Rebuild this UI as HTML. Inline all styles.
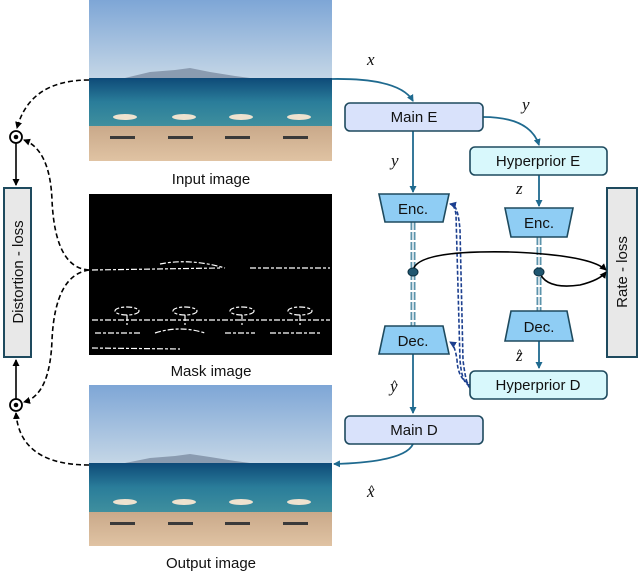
<!DOCTYPE html>
<html><head><meta charset="utf-8"><style>
html,body{margin:0;padding:0;background:#fff;}
svg{display:block;font-family:"Liberation Sans",sans-serif;}
.m{font-family:"Liberation Serif",serif;font-style:italic;font-size:17px;fill:#111;}
</style></head><body>
<svg width="640" height="573" viewBox="0 0 640 573" xmlns="http://www.w3.org/2000/svg">
<defs>
<marker id="ab" markerWidth="8" markerHeight="8" refX="6" refY="4" orient="auto" markerUnits="userSpaceOnUse"><path d="M0,0.5 L7,4 L0,7.5z" fill="#1f6a8f"/></marker>
<marker id="ak" markerWidth="8" markerHeight="8" refX="6" refY="4" orient="auto" markerUnits="userSpaceOnUse"><path d="M0,0.5 L7,4 L0,7.5z" fill="#000"/></marker>
<marker id="an" markerWidth="8" markerHeight="8" refX="6" refY="4" orient="auto" markerUnits="userSpaceOnUse"><path d="M0,0.5 L7,4 L0,7.5z" fill="#1c3f8f"/></marker>
<linearGradient id="sky" x1="0" y1="0" x2="0" y2="1"><stop offset="0" stop-color="#7ea6d6"/><stop offset="1" stop-color="#c4d6e6"/></linearGradient>
<linearGradient id="sea" x1="0" y1="0" x2="0" y2="1"><stop offset="0" stop-color="#0e4a78"/><stop offset="0.5" stop-color="#2a7d9a"/><stop offset="1" stop-color="#3f8f9e"/></linearGradient>
<linearGradient id="sand" x1="0" y1="0" x2="0" y2="1"><stop offset="0" stop-color="#c9a98a"/><stop offset="1" stop-color="#e0c3a3"/></linearGradient>
</defs>

<!-- Input image -->
<rect x="89" y="0" width="243" height="78" fill="url(#sky)"/>
<path d="M125,78 L150,72 L175,70 L190,68 L210,72 L235,76 L250,78Z" fill="#8a9bb0"/>
<rect x="89" y="78" width="243" height="48" fill="url(#sea)"/>
<rect x="89" y="126" width="243" height="35" fill="url(#sand)"/>
<g fill="#eee2cf"><ellipse cx="125" cy="117" rx="12" ry="3"/><ellipse cx="184" cy="117" rx="12" ry="3"/><ellipse cx="241" cy="117" rx="12" ry="3"/><ellipse cx="299" cy="117" rx="12" ry="3"/></g>
<g fill="#3a3a3a"><rect x="110" y="136" width="25" height="3"/><rect x="168" y="136" width="25" height="3"/><rect x="225" y="136" width="25" height="3"/><rect x="283" y="136" width="25" height="3"/></g>
<text x="211" y="184" font-size="15" text-anchor="middle" fill="#111">Input image</text>

<!-- Mask image -->
<rect x="89" y="194" width="243" height="161" fill="#000"/>
<g stroke="#fff" stroke-width="1.2" fill="none" stroke-dasharray="6 2 3 2">
<path d="M92,270 L220,268 M160,264 Q190,258 225,268 M250,268 L330,268"/>
<ellipse cx="127" cy="311" rx="12" ry="4"/><ellipse cx="185" cy="311" rx="12" ry="4"/><ellipse cx="242" cy="311" rx="12" ry="4"/><ellipse cx="300" cy="311" rx="12" ry="4"/>
<path d="M127,315 L127,325 M185,315 L185,325 M242,315 L242,325 M300,315 L300,325"/>
<path d="M92,320 L330,320 M95,333 L140,333 M155,333 Q180,325 205,333 M225,333 L255,333 M270,333 L320,333 M92,348 L180,349"/>
</g>
<text x="211" y="376" font-size="15" text-anchor="middle" fill="#111">Mask image</text>

<!-- Output image -->
<rect x="89" y="385" width="243" height="78" fill="url(#sky)"/>
<path d="M125,463 L150,458 L175,456 L190,454 L210,457 L235,461 L250,463Z" fill="#8a9bb0"/>
<rect x="89" y="463" width="243" height="49" fill="url(#sea)"/>
<rect x="89" y="512" width="243" height="34" fill="url(#sand)"/>
<g fill="#eee2cf"><ellipse cx="125" cy="502" rx="12" ry="3"/><ellipse cx="184" cy="502" rx="12" ry="3"/><ellipse cx="241" cy="502" rx="12" ry="3"/><ellipse cx="299" cy="502" rx="12" ry="3"/></g>
<g fill="#3a3a3a"><rect x="110" y="522" width="25" height="3"/><rect x="168" y="522" width="25" height="3"/><rect x="225" y="522" width="25" height="3"/><rect x="283" y="522" width="25" height="3"/></g>
<text x="211" y="568" font-size="15" text-anchor="middle" fill="#111">Output image</text>

<!-- Distortion loss -->
<rect x="4" y="188" width="27" height="169" fill="#e8e8e8" stroke="#1e4a5e" stroke-width="2"/>
<text transform="translate(23,272) rotate(-90)" font-size="15" text-anchor="middle" fill="#111">Distortion - loss</text>
<circle cx="16" cy="137" r="6" fill="#fff" stroke="#000" stroke-width="1.8"/><circle cx="16" cy="137" r="2.3" fill="#000"/>
<circle cx="16" cy="405" r="6" fill="#fff" stroke="#000" stroke-width="1.8"/><circle cx="16" cy="405" r="2.3" fill="#000"/>
<line x1="16" y1="143" x2="16" y2="185" stroke="#000" stroke-width="1.6" marker-end="url(#ak)"/>
<line x1="16" y1="399" x2="16" y2="360" stroke="#000" stroke-width="1.6" marker-end="url(#ak)"/>
<g stroke="#000" stroke-width="1.6" fill="none" stroke-dasharray="5 3">
<path d="M89,80 Q30,80 17,128" marker-end="url(#ak)"/>
<path d="M89,270 Q55,268 52,200 Q50,150 24,140" marker-end="url(#ak)"/>
<path d="M89,270 Q55,275 52,340 Q50,395 24,402" marker-end="url(#ak)"/>
<path d="M89,465 Q20,465 16,413" marker-end="url(#ak)"/>
</g>

<!-- Rate loss -->
<rect x="607" y="188" width="30" height="169" fill="#e8e8e8" stroke="#1e4a5e" stroke-width="2"/>
<text transform="translate(627,272) rotate(-90)" font-size="15" text-anchor="middle" fill="#111">Rate - loss</text>

<!-- blue arrows -->
<g stroke="#1f6a8f" stroke-width="1.8" fill="none">
<path d="M332,79 Q400,78 413,101" marker-end="url(#ab)"/>
<path d="M483,117 Q530,117 539,145" marker-end="url(#ab)"/>
<line x1="413" y1="131" x2="413" y2="192" marker-end="url(#ab)"/>
<line x1="539" y1="175" x2="539" y2="206" marker-end="url(#ab)"/>
<line x1="539" y1="341" x2="539" y2="368" marker-end="url(#ab)"/>
<line x1="413" y1="354" x2="413" y2="413" marker-end="url(#ab)"/>
<path d="M413,444 Q405,462 334,464" marker-end="url(#ab)"/>
</g>
<!-- double dashed -->
<g stroke="#5b93ab" stroke-width="5" fill="none" stroke-dasharray="8 2">
<line x1="413" y1="222" x2="413" y2="326"/><line x1="539" y1="237" x2="539" y2="311"/>
</g>
<g stroke="#fff" stroke-width="1.4"><line x1="413" y1="222" x2="413" y2="326"/><line x1="539" y1="237" x2="539" y2="311"/></g>
<!-- navy dashed -->
<g stroke="#1c3f8f" stroke-width="1.6" fill="none" stroke-dasharray="4 2">
<path d="M470,385 Q462,385 460,360 L456,215 Q455,205 450,204" marker-end="url(#an)"/>
<path d="M470,388 Q466,385 463,360 L460,230 Q458,205 452,205"/>
<path d="M468,383 Q458,378 457,360 Q455,345 450,342" marker-end="url(#an)"/>
</g>
<!-- rate arrows -->
<g stroke="#000" stroke-width="1.6" fill="none">
<path d="M413,271 Q415,250 510,252 Q590,255 606,270" marker-end="url(#ak)"/>
<path d="M539,271 Q545,290 580,285 Q600,280 606,272" marker-end="url(#ak)"/>
</g>
<ellipse cx="413" cy="272" rx="5" ry="4" fill="#1f5670" stroke="#0c2f40"/>
<ellipse cx="539" cy="272" rx="5" ry="4" fill="#1f5670" stroke="#0c2f40"/>

<!-- boxes -->
<g stroke="#1e4a5e" stroke-width="1.6">
<rect x="345" y="103" width="138" height="28" rx="5" fill="#d9e2fb"/>
<rect x="345" y="416" width="138" height="28" rx="5" fill="#d9e2fb"/>
<rect x="470" y="147" width="137" height="28" rx="5" fill="#d8f8fc"/>
<rect x="470" y="371" width="137" height="28" rx="5" fill="#d8f8fc"/>
<path d="M379,194 L449,194 L443,222 L385,222Z" fill="#8fcdf4"/>
<path d="M505,208 L573,208 L567,237 L511,237Z" fill="#8fcdf4"/>
<path d="M385,326 L443,326 L449,354 L379,354Z" fill="#8fcdf4"/>
<path d="M511,311 L567,311 L573,341 L505,341Z" fill="#8fcdf4"/>
</g>
<g font-size="15" text-anchor="middle" fill="#111">
<text x="414" y="122">Main E</text>
<text x="414" y="435">Main D</text>
<text x="538" y="166">Hyperprior E</text>
<text x="538" y="390">Hyperprior D</text>
<text x="413" y="214">Enc.</text>
<text x="539" y="228">Enc.</text>
<text x="413" y="346">Dec.</text>
<text x="539" y="332">Dec.</text>
</g>
<text class="m" x="367" y="65">x</text>
<text class="m" x="522" y="110">y</text>
<text class="m" x="391" y="166">y</text>
<text class="m" x="516" y="194">z</text>
<text class="m" x="516" y="361">z</text><text x="517" y="357" font-size="11" fill="#111">^</text>
<text class="m" x="390" y="392">y</text><text x="392" y="388" font-size="11" fill="#111">^</text>
<text class="m" x="367" y="497">x</text><text x="369" y="493" font-size="11" fill="#111">^</text>
</svg>
</body></html>
